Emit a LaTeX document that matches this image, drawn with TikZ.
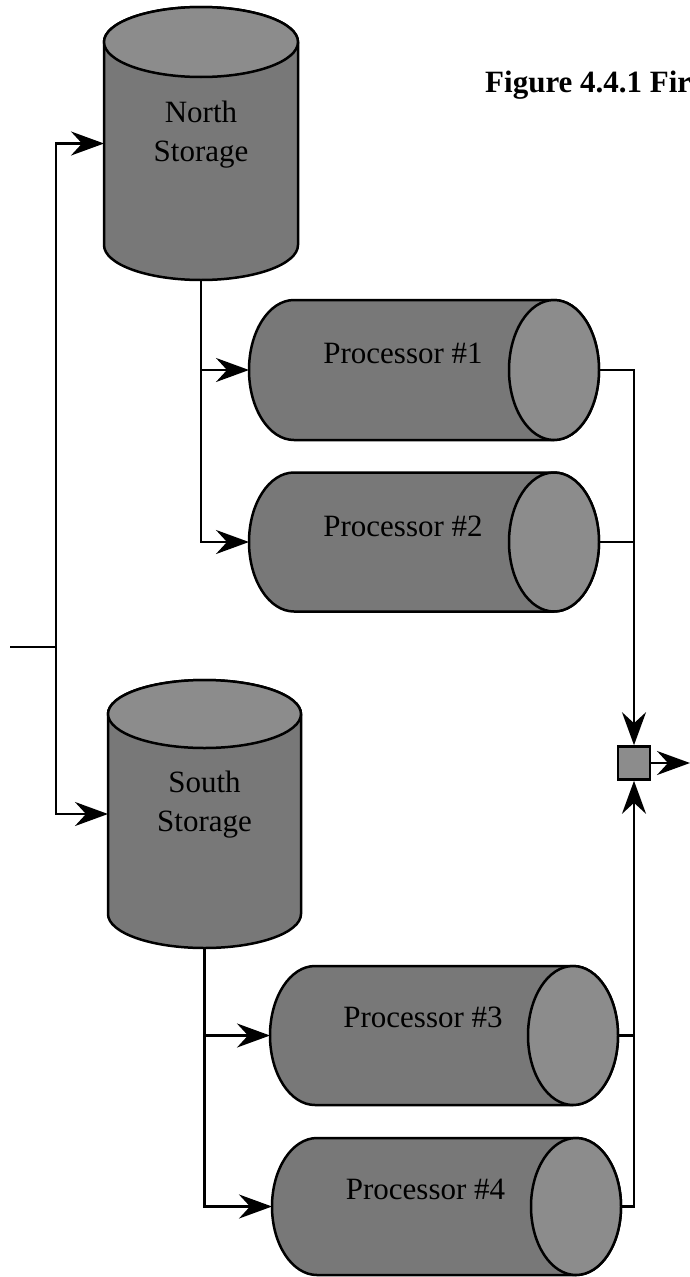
\documentclass[tikz,border=0pt]{standalone}
\usepackage{fontspec}
\setmainfont{Liberation Serif}
\usetikzlibrary{arrows.meta,calc}

\definecolor{bodygray}{gray}{0.47}
\definecolor{endgray}{gray}{0.55}

\tikzset{
  holder/.style={draw=none, inner sep=0pt, outer sep=0pt},
  lbl/.style={inner sep=0pt, font=\fontsize{31}{39}\selectfont},
  shell/.style={draw=black, line width=2.5pt, fill=bodygray, line join=round},
  face/.style={draw=black, line width=2.5pt, fill=endgray},
  conn/.style={line width=2.5pt},
  arr/.style={conn, -{Stealth[length=33pt,width=24pt,inset=11pt]}},
}

% upright storage drum: node name, radius of the end ellipse
\newcommand\storagecyl[2]{%
  \draw[shell] let \p1=(#1.north west), \p2=(#1.south east), \n1={(\x2-\x1)/2} in
    (\x1,\y1-#2pt) -- (\x1,\y2+#2pt)
    arc[start angle=180, end angle=360, x radius=\n1, y radius=#2pt]
    -- (\x2,\y1-#2pt)
    arc[start angle=0, end angle=180, x radius=\n1, y radius=#2pt] -- cycle;
  \draw[face] let \p1=(#1.north west), \p2=(#1.south east), \n1={(\x2-\x1)/2} in
    (\x1+\n1,\y1-#2pt) ellipse[x radius=\n1, y radius=#2pt];
}

% lying processor drum: node name, radius of the end ellipse
\newcommand\proccyl[2]{%
  \draw[shell] let \p1=(#1.north west), \p2=(#1.south east), \n1={(\y1-\y2)/2} in
    (\x1+#2pt,\y1) -- (\x2-#2pt,\y1)
    arc[start angle=90, end angle=-90, x radius=#2pt, y radius=\n1]
    -- (\x1+#2pt,\y2)
    arc[start angle=270, end angle=90, x radius=#2pt, y radius=\n1] -- cycle;
  \draw[face] let \p1=(#1.north west), \p2=(#1.south east), \n1={(\y1-\y2)/2} in
    (\x2-#2pt,\y1-\n1) ellipse[x radius=#2pt, y radius=\n1];
}

\begin{document}
\begin{tikzpicture}[x=1pt, y=1pt]
  \fill[white] (0,0) rectangle (690,-1277);
  \useasboundingbox (0,0) rectangle (690,-1277);

  % storage drums
  \node[holder, minimum width=194pt, minimum height=273pt] (north) at (201,-143.5) {};
  \node[holder, minimum width=193pt, minimum height=268pt] (south) at (204.5,-814) {};
  \storagecyl{north}{35}
  \storagecyl{south}{34}

  % processors
  \node[holder, minimum width=350pt, minimum height=140pt] (p1) at (424,-370) {};
  \node[holder, minimum width=350pt, minimum height=139pt] (p2) at (424,-542) {};
  \node[holder, minimum width=348pt, minimum height=139pt] (p3) at (444,-1035.5) {};
  \node[holder, minimum width=349pt, minimum height=137pt] (p4) at (446.5,-1206.5) {};
  \proccyl{p1}{45}
  \proccyl{p2}{45}
  \proccyl{p3}{45}
  \proccyl{p4}{45}

  % labels
  \node[lbl, align=center] (northlbl) at ($(north)+(0,8.5)$) {North\\Storage};
  \node[lbl, align=center] (southlbl) at ($(south)+(0,9.5)$) {South\\Storage};
  \node[lbl] (p1lbl) at ($(p1)+(-21,17)$) {Processor \#1};
  \node[lbl] (p2lbl) at ($(p2)+(-21,16)$) {Processor \#2};
  \node[lbl] (p3lbl) at ($(p3)+(-21,18)$) {Processor \#3};
  \node[lbl] (p4lbl) at ($(p4)+(-21,17)$) {Processor \#4};
  \node[lbl, font=\fontsize{31}{39}\selectfont\bfseries, anchor=base west] (title)
    at (485,-92) {Figure 4.4.1 Fir};

  % merge point
  \node[draw=black, line width=2.6pt, fill=endgray, inner sep=0pt,
        minimum width=32pt, minimum height=33pt] (merge) at (634,-763) {};

  % connectors
  \coordinate (feed) at (10,-647);
  \coordinate (split) at (56,-647);
  \coordinate (outlet) at (690,-763);
  \draw[conn] (feed) -- (split);
  \draw[arr] (split) |- (north.west);
  \draw[arr] (split) |- (south.west);
  \draw[arr] (north.south) |- (p1.west);
  \draw[arr] (north.south) |- (p2.west);
  \draw[arr] (south.south) |- (p3.west);
  \draw[arr] (south.south) |- (p4.west);
  \draw[arr] (p1.east) -| (merge.north);
  \draw[conn] (p2.east) -- (p2.east -| merge.north);
  \draw[arr] (p4.east) -| (merge.south);
  \draw[conn] (p3.east) -- (p3.east -| merge.south);
  \draw[arr] (merge.east) -- (outlet);
\end{tikzpicture}
\end{document}
